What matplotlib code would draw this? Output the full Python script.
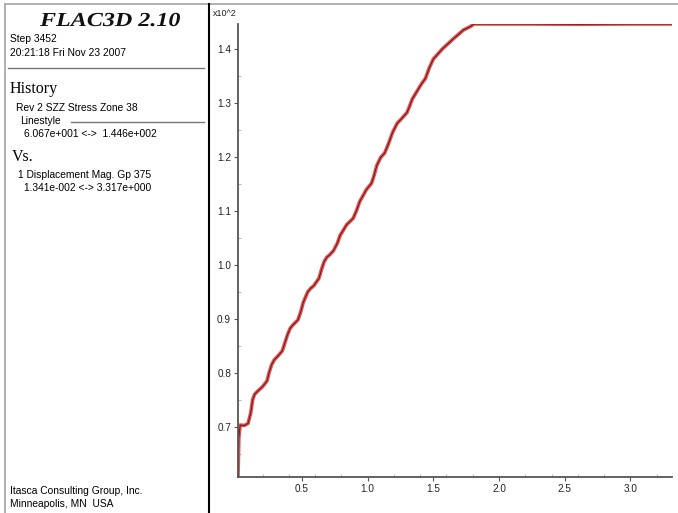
import matplotlib
matplotlib.use("Agg")
import matplotlib.pyplot as plt
from matplotlib.lines import Line2D
from matplotlib.patches import PathPatch
from matplotlib.textpath import TextPath
from matplotlib.font_manager import FontProperties
from matplotlib.transforms import Affine2D
from matplotlib.ticker import MultipleLocator

# ---- data ----
disp = [0.0134, 0.02, 0.03, 0.06, 0.09, 0.11, 0.125, 0.14, 0.16, 0.20, 0.235, 0.25, 0.27,
        0.29, 0.31, 0.35, 0.37, 0.39, 0.41, 0.43, 0.47, 0.49, 0.51, 0.545, 0.57, 0.59,
        0.63, 0.65, 0.67, 0.69, 0.71, 0.74, 0.77, 0.79, 0.84, 0.865, 0.89, 0.915, 0.94,
        0.99, 1.01, 1.03, 1.05, 1.07, 1.10, 1.13, 1.16, 1.19, 1.225, 1.26, 1.30, 1.32,
        1.34, 1.39, 1.41, 1.44, 1.47, 1.50, 1.57, 1.65, 1.73, 1.78, 1.81, 2.2, 2.6,
        3.0, 3.317]
szz = [0.6067, 0.680, 0.703, 0.702, 0.706, 0.725, 0.750, 0.760, 0.765, 0.774, 0.785, 0.800, 0.815,
       0.824, 0.829, 0.840, 0.855, 0.870, 0.882, 0.888, 0.898, 0.912, 0.930, 0.950, 0.957, 0.961,
       0.975, 0.992, 1.006, 1.014, 1.018, 1.026, 1.040, 1.054, 1.074, 1.080, 1.086, 1.100, 1.117,
       1.139, 1.145, 1.151, 1.166, 1.184, 1.199, 1.207, 1.225, 1.245, 1.262, 1.271, 1.282, 1.294,
       1.307, 1.327, 1.335, 1.345, 1.365, 1.381, 1.400, 1.418, 1.435, 1.441, 1.446, 1.446, 1.4455,
       1.446, 1.446]
xticks = [0.5, 1.0, 1.5, 2.0, 2.5, 3.0]
yticks = [0.7, 0.8, 0.9, 1.0, 1.1, 1.2, 1.3, 1.4]

W, H = 678, 513
fig = plt.figure(figsize=(W / 100, H / 100), dpi=100)

def fx(px):
    return px / W

def fy(py):
    return 1 - py / H

sans = "Liberation Sans"
serif = "Liberation Serif"
fs = 7.4

# frame
fig.add_artist(Line2D([fx(5), fx(678)], [fy(4), fy(4)], color="#aaaaaa", lw=1.3))
fig.add_artist(Line2D([fx(5), fx(5)], [fy(4), fy(513)], color="#aaaaaa", lw=1.3))
fig.add_artist(Line2D([fx(209), fx(209)], [fy(4), fy(513)], color="black", lw=1.5))

# title drawn as a path, scaled to the reference's width and height
def path_text(s, x0, x1, base, cap, fp):
    tp = TextPath((0, 0), s, size=100, prop=fp)
    ref = TextPath((0, 0), "F", size=100, prop=fp).get_extents()
    ext = tp.get_extents()
    sx = (x1 - x0) / ext.width
    sy = cap / ref.height
    tr = Affine2D().translate(-ext.x0, 0).scale(sx / W, sy / H).translate(fx(x0), fy(base))
    p = PathPatch(tr.transform_path(tp), transform=fig.transFigure,
                  facecolor="#111111", edgecolor="none")
    fig.add_artist(p)

path_text("FLAC3D 2.10", 40, 180, 26, 13,
          FontProperties(family=serif, style="italic", weight="bold"))

fig.text(fx(10), fy(89), "History", family=serif, fontsize=11.5, va="center")
fig.text(fx(12), fy(157), "Vs.", family=serif, fontsize=11.5, va="center")
fig.text(fx(10), fy(39), "Step 3452", family=sans, fontsize=fs, va="center")
fig.text(fx(10), fy(53), "20:21:18 Fri Nov 23 2007", family=sans, fontsize=fs, va="center")
fig.add_artist(Line2D([fx(8), fx(204)], [fy(68), fy(68)], color="#777777", lw=1))
fig.text(fx(16), fy(108), "Rev 2 SZZ Stress Zone 38", family=sans, fontsize=fs, va="center")
fig.text(fx(20), fy(121), "Linestyle", family=sans, fontsize=fs, va="center")
fig.add_artist(Line2D([fx(71), fx(204)], [fy(122), fy(122)], color="#777777", lw=1))
fig.text(fx(24), fy(134), "6.067e+001 <->  1.446e+002", family=sans, fontsize=fs, va="center")
fig.text(fx(18), fy(175), "1 Displacement Mag. Gp 375", family=sans, fontsize=fs, va="center")
fig.text(fx(24), fy(188), "1.341e-002 <-> 3.317e+000", family=sans, fontsize=fs, va="center")
fig.text(fx(10), fy(491), "Itasca Consulting Group, Inc.", family=sans, fontsize=fs, va="center")
fig.text(fx(10), fy(504), "Minneapolis, MN  USA", family=sans, fontsize=fs, va="center")

# plot axes
ax = fig.add_axes([fx(238), fy(477), fx(672) - fx(238), fy(24) - fy(477)])
ax.plot(disp, szz, color="#dd3333", lw=2.6, alpha=0.85, solid_joinstyle="round",
        solid_capstyle="round")
ax.plot(disp, szz, color="#5a1212", lw=0.6, solid_joinstyle="round")
ax.set_xlim(0.0134, 3.317)
ax.set_ylim(0.6067, 1.446)
ax.set_xticks(xticks)
ax.set_yticks(yticks)
ax.set_xticklabels([f"{v:.1f}" for v in xticks])
ax.set_yticklabels([f"{v:.1f}" for v in yticks])
ax.xaxis.set_minor_locator(MultipleLocator(0.2))
ax.yaxis.set_minor_locator(MultipleLocator(0.05))
for s in ("top", "right"):
    ax.spines[s].set_visible(False)
for s in ("left", "bottom"):
    ax.spines[s].set_color("#555555")
    ax.spines[s].set_linewidth(1.3)
ax.tick_params(axis="both", which="major", length=3, width=0.8, color="#555555",
               labelsize=7.2, labelcolor="#222222", pad=2)
ax.tick_params(axis="both", which="minor", length=2, width=0.5, color="#999999",
               direction="in")
for lab in ax.get_xticklabels() + ax.get_yticklabels():
    lab.set_family(sans)
ax.patch.set_alpha(0)
fig.text(fx(213), fy(14), "x10^2", family=sans, fontsize=6.5, va="center", color="#222222")

fig.savefig("out.png", dpi=100)
